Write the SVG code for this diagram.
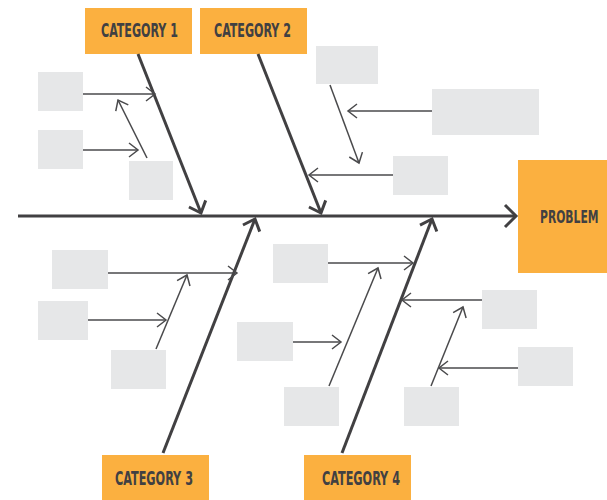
<svg xmlns="http://www.w3.org/2000/svg" width="607" height="500" viewBox="0 0 607 500">
  <style>
    .cat { fill: #FBB040; }
    .cause { fill: #E6E7E8; }
    .label { font-family: "DejaVu Sans Condensed", "Liberation Sans", sans-serif; font-weight: bold; fill: #414042; }
    .spine { stroke: #414042; stroke-width: 3; fill: none; marker-end: url(#headLarge); }
    .bone { stroke: #414042; stroke-width: 3; fill: none; marker-end: url(#headBone); }
    .twig { stroke: #4a4a4c; stroke-width: 1.5; fill: none; marker-end: url(#headSmall); }
  </style>
  <defs>
    <marker id="headLarge" markerUnits="userSpaceOnUse" viewBox="-14 -14 16 28" markerWidth="16" markerHeight="28" refX="0" refY="0" orient="auto" overflow="visible">
      <path d="M-11,-11 L0,0 L-11,11" fill="none" stroke="#414042" stroke-width="3"/>
    </marker>
    <marker id="headBone" markerUnits="userSpaceOnUse" viewBox="-14 -12 16 24" markerWidth="16" markerHeight="24" refX="0" refY="0" orient="auto" overflow="visible">
      <path d="M-10,-9 L0,0 L-10,9" fill="none" stroke="#414042" stroke-width="3"/>
    </marker>
    <marker id="headSmall" markerUnits="userSpaceOnUse" viewBox="-12 -9 14 18" markerWidth="14" markerHeight="18" refX="0" refY="0" orient="auto" overflow="visible">
      <path d="M-9,-7 L0,0 L-9,7" fill="none" stroke="#4a4a4c" stroke-width="1.5"/>
    </marker>
  </defs>

  <!-- category and problem heads -->
  <g id="category-1">
    <rect class="cat" x="85" y="8" width="107" height="46"/>
    <text class="label" x="101" y="37" font-size="19" textLength="77" lengthAdjust="spacingAndGlyphs">CATEGORY 1</text>
  </g>
  <g id="category-2">
    <rect class="cat" x="200" y="8" width="107" height="46"/>
    <text class="label" x="214" y="37" font-size="19" textLength="77" lengthAdjust="spacingAndGlyphs">CATEGORY 2</text>
  </g>
  <g id="category-3">
    <rect class="cat" x="102" y="455" width="107" height="45"/>
    <text class="label" x="115" y="485" font-size="19" textLength="78" lengthAdjust="spacingAndGlyphs">CATEGORY 3</text>
  </g>
  <g id="category-4">
    <rect class="cat" x="304" y="455" width="107" height="45"/>
    <text class="label" x="322" y="485" font-size="19" textLength="78" lengthAdjust="spacingAndGlyphs">CATEGORY 4</text>
  </g>
  <g id="problem">
    <rect class="cat" x="518" y="160" width="89" height="113"/>
    <!-- horizontally condensed label -->
    <text class="label" transform="translate(540,223) scale(0.75,1)" x="0" y="0" font-size="17" textLength="78" lengthAdjust="spacingAndGlyphs">PROBLEM</text>
  </g>

  <!-- cause placeholders -->
  <g id="cause-a"><rect class="cause" x="38" y="72" width="45" height="39"/></g>
  <g id="cause-b"><rect class="cause" x="38" y="130" width="45" height="39"/></g>
  <g id="cause-c"><rect class="cause" x="129" y="161" width="44" height="39"/></g>
  <g id="cause-d"><rect class="cause" x="316" y="46" width="62" height="38"/></g>
  <g id="cause-e"><rect class="cause" x="432" y="89" width="107" height="46"/></g>
  <g id="cause-f"><rect class="cause" x="393" y="156" width="55" height="39"/></g>
  <g id="cause-g"><rect class="cause" x="52" y="250" width="56" height="39"/></g>
  <g id="cause-h"><rect class="cause" x="38" y="301" width="50" height="39"/></g>
  <g id="cause-i"><rect class="cause" x="111" y="350" width="55" height="39"/></g>
  <g id="cause-j"><rect class="cause" x="273" y="244" width="55" height="39"/></g>
  <g id="cause-k"><rect class="cause" x="237" y="322" width="56" height="39"/></g>
  <g id="cause-l"><rect class="cause" x="284" y="387" width="55" height="39"/></g>
  <g id="cause-m"><rect class="cause" x="482" y="290" width="55" height="39"/></g>
  <g id="cause-n"><rect class="cause" x="518" y="347" width="55" height="39"/></g>
  <g id="cause-o"><rect class="cause" x="404" y="387" width="55" height="39"/></g>

  <!-- connectors -->
  <g id="connectors">
    <line class="spine" x1="18" y1="216" x2="516" y2="216"/>
    <line class="bone" x1="138" y1="54" x2="201" y2="213"/>
    <line class="bone" x1="258" y1="54" x2="321" y2="213"/>
    <line class="bone" x1="163" y1="453" x2="255" y2="219"/>
    <line class="bone" x1="342" y1="453" x2="432" y2="219"/>

    <line class="twig" x1="83" y1="94" x2="155" y2="94"/>
    <line class="twig" x1="83" y1="150" x2="138" y2="150"/>
    <line class="twig" x1="147" y1="158" x2="118" y2="100"/>

    <line class="twig" x1="432" y1="111" x2="348" y2="111"/>
    <line class="twig" x1="330" y1="85" x2="359" y2="163"/>
    <line class="twig" x1="393" y1="175" x2="309" y2="175"/>

    <line class="twig" x1="108" y1="273" x2="237" y2="273"/>
    <line class="twig" x1="88" y1="320" x2="166" y2="320"/>
    <line class="twig" x1="156" y1="349" x2="187" y2="275"/>

    <line class="twig" x1="328" y1="263" x2="413" y2="263"/>
    <line class="twig" x1="293" y1="342" x2="341" y2="342"/>
    <line class="twig" x1="329" y1="386" x2="378" y2="268"/>

    <line class="twig" x1="482" y1="300" x2="402" y2="300"/>
    <line class="twig" x1="518" y1="368" x2="439" y2="368"/>
    <line class="twig" x1="431" y1="386" x2="463" y2="307"/>
  </g>
</svg>
